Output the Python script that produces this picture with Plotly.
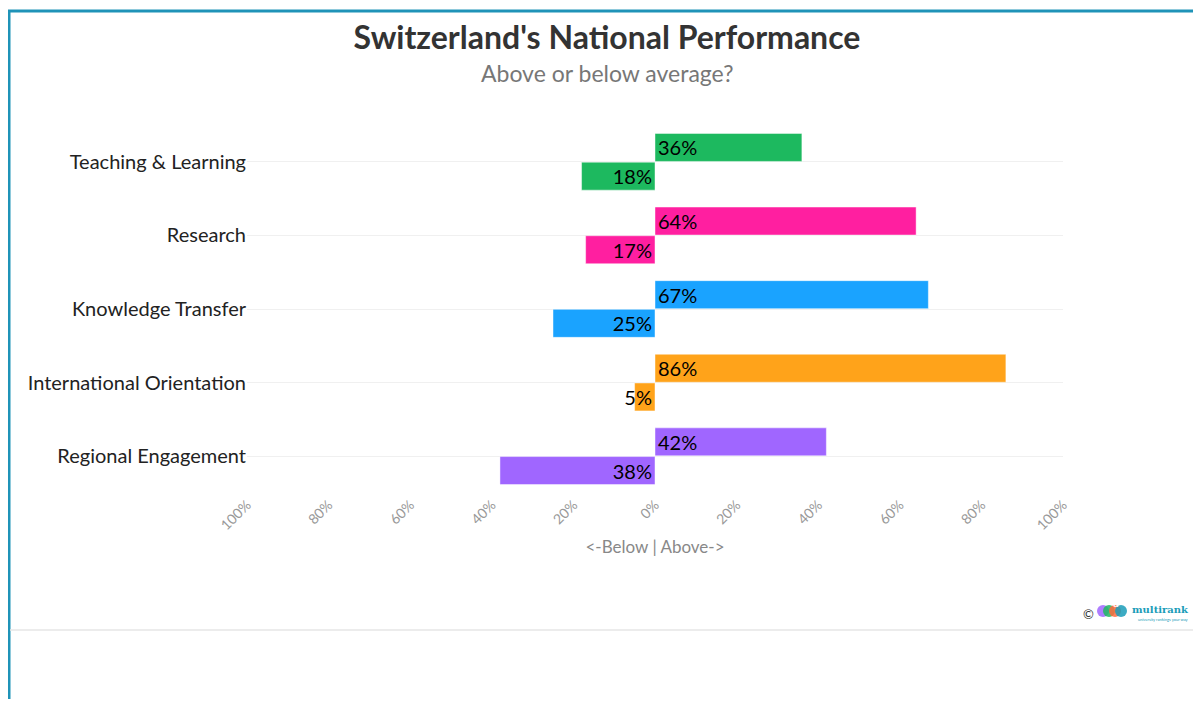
import plotly.graph_objects as go

categories = ["Teaching & Learning", "Research", "Knowledge Transfer",
              "International Orientation", "Regional Engagement"]
above = [36, 64, 67, 86, 42]
below = [18, 17, 25, 5, 38]
colors = ["#1db95f", "#ff1fa0", "#1aa3ff", "#ffa31a", "#a066ff"]
tick_vals = [-100, -80, -60, -40, -20, 0, 20, 40, 60, 80, 100]
tick_text = ["100%", "80%", "60%", "40%", "20%", "0%", "20%", "40%", "60%", "80%", "100%"]

FONT = "Source Sans Pro, Lato, Open Sans, sans-serif"
# page body adds an 8px margin; work in figure pixels = reference pixels - 8
O = 8
W, H = 1201 - 2 * O, 707 - 2 * O
L, R, T, B = 247 - O, W - (1063 - O), 125 - O, H - (493 - O)
PW, PH = W - L - R, H - T - B


def px(x):
    return (x - O - L) / PW


def py(y):
    return (H - B - (y - O)) / PH


fig = go.Figure()
for vals, sign, off in [(above, 1, -0.385), (below, -1, 0.005)]:
    fig.add_trace(go.Bar(
        y=categories, x=[sign * v for v in vals], orientation="h",
        marker=dict(color=colors, line=dict(color="rgba(255,255,255,0.45)", width=1)),
        width=0.38, offset=off,
        text=[f"{v}%" for v in vals], textposition="inside", insidetextanchor="start",
        constraintext="none", textangle=0,
        textfont=dict(color="black", size=20, family=FONT), hoverinfo="skip"))

fig.update_layout(
    width=W, height=H, margin=dict(l=L, r=R, t=T, b=B),
    paper_bgcolor="white", plot_bgcolor="white", showlegend=False,
    barmode="overlay",
    font=dict(family=FONT),
    title=dict(text="<b>Switzerland's National Performance</b>", x=px(607), xanchor="center",
               xref="paper", y=1 - (38 - O) / H, yanchor="middle",
               font=dict(size=32, color="#333333", family=FONT)),
    xaxis=dict(range=[-100, 100], tickvals=tick_vals, ticktext=tick_text,
               tickangle=-45, showgrid=False, zeroline=False, showline=False,
               tickfont=dict(size=14, color="#999999"),
               title=dict(text="<-Below | Above->", font=dict(size=17, color="#888888"), standoff=8)),
    yaxis=dict(autorange="reversed", showgrid=True, gridcolor="#f0f0f0",
               tickfont=dict(size=20, color="#222222"),
               zeroline=False, showline=False),
    shapes=[
        dict(type="line", xref="paper", yref="paper",
             x0=px(0), x1=px(1210), y0=py(11), y1=py(11),
             line=dict(color="#1f93b8", width=3)),
        dict(type="line", xref="paper", yref="paper",
             x0=px(9), x1=px(9), y0=py(10), y1=py(720),
             line=dict(color="#1f93b8", width=3)),
        dict(type="line", xref="paper", yref="paper",
             x0=px(10), x1=px(1210), y0=py(630), y1=py(630),
             line=dict(color="#e6e6e6", width=1.5)),
    ],
    annotations=[
        dict(text="Above or below average?", xref="paper", yref="paper",
             x=px(607), y=py(73),
             xanchor="center", yanchor="middle", showarrow=False,
             font=dict(size=23, color="#777777", family=FONT)),
        dict(text="©", xref="paper", yref="paper",
             x=px(1088), y=py(614),
             xanchor="center", yanchor="middle", showarrow=False,
             font=dict(size=13, color="#333333")),
        dict(text="<b>multirank</b>", xref="paper", yref="paper",
             x=px(1191), y=py(609),
             xanchor="right", yanchor="middle", showarrow=False,
             font=dict(size=10, color="#1a9cb8", family="DejaVu Serif")),
        dict(text="university rankings your way", xref="paper", yref="paper",
             x=px(1191), y=py(619),
             xanchor="right", yanchor="middle", showarrow=False,
             font=dict(size=4, color="#1a9cb8")),
    ],
)

# logo circles
logo_cols = ["#a066ff", "#1db95f", "#ff6a3d", "#1a9cb8"]
for i, c in enumerate(logo_cols):
    cx = 1103 + i * 6
    fig.add_shape(type="circle", xref="paper", yref="paper",
                  x0=px(cx - 6), x1=px(cx + 6), y0=py(617), y1=py(605),
                  fillcolor=c, line=dict(width=0), opacity=0.85)
fig.add_annotation(text="<b>u</b>", xref="paper", yref="paper",
                   x=px(1121), y=py(611), showarrow=False,
                   font=dict(size=10, color="white"))

fig.write_html("out.html")
